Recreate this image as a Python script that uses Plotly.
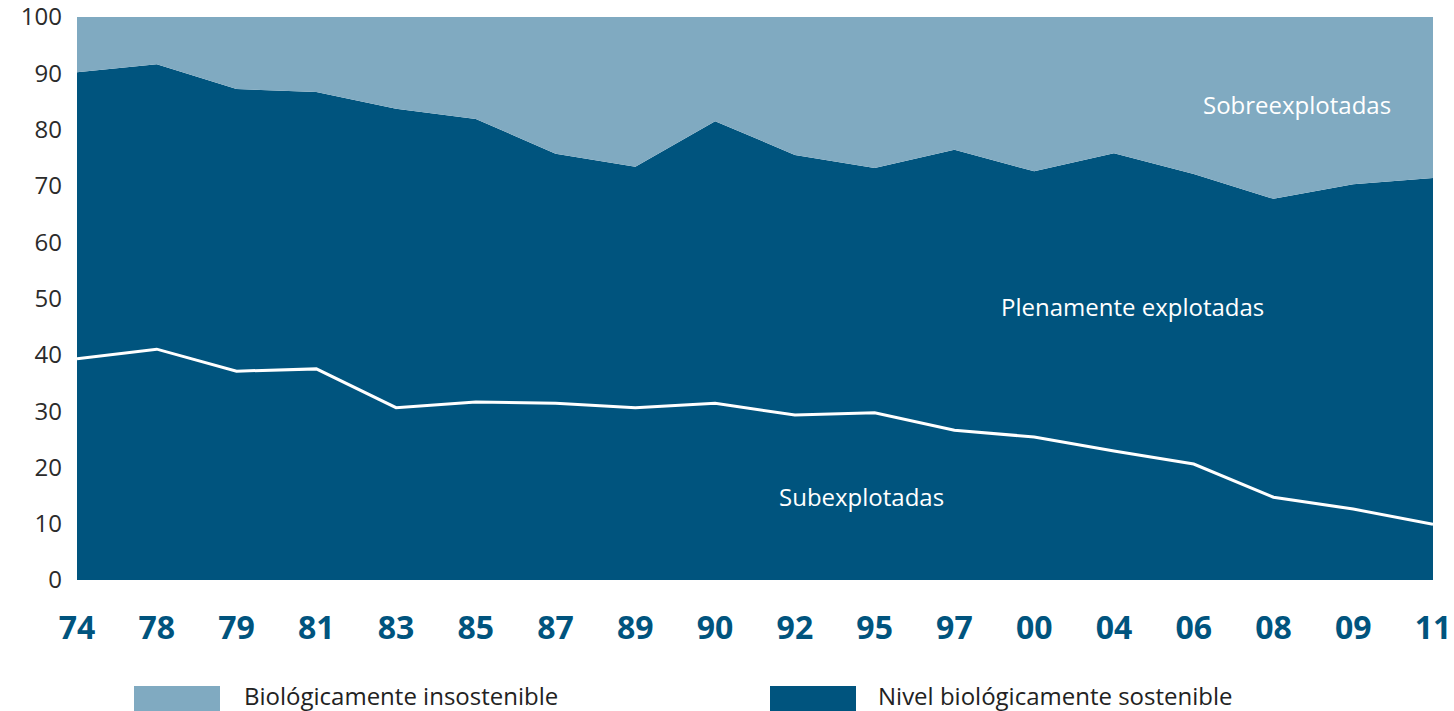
import plotly.graph_objects as go

years = ["74", "78", "79", "81", "83", "85", "87", "89", "90", "92", "95", "97", "00", "04", "06", "08", "09", "11"]
sostenible = [90.2, 91.6, 87.2, 86.7, 83.7, 81.9, 75.7, 73.4, 81.5, 75.5, 73.2, 76.4, 72.6, 75.8, 72.1, 67.7, 70.3, 71.4]
subexplotadas = [39.3, 41.0, 37.1, 37.5, 30.6, 31.6, 31.4, 30.6, 31.4, 29.3, 29.7, 26.6, 25.4, 22.9, 20.6, 14.7, 12.6, 9.9]
total = [100] * len(years)
y_ticks = [0, 10, 20, 30, 40, 50, 60, 70, 80, 90, 100]

LIGHT = "#80AAC1"
DARK = "#00547E"
xi = list(range(len(years)))

fig = go.Figure()
fig.add_trace(go.Scatter(x=xi, y=sostenible, mode="lines", line=dict(width=0, color=DARK),
                         fill="tozeroy", fillcolor=DARK, showlegend=False, hoverinfo="skip"))
fig.add_trace(go.Scatter(x=xi, y=total, mode="lines", line=dict(width=0, color=LIGHT),
                         fill="tonexty", fillcolor=LIGHT, showlegend=False, hoverinfo="skip"))
fig.add_trace(go.Scatter(x=xi, y=subexplotadas, mode="lines", line=dict(width=3, color="white"),
                         showlegend=False))

font = "Open Sans, Noto Sans, sans-serif"
ann_font = dict(family=font, size=24, color="white")
fig.add_annotation(x=15.3, y=84.5, text="Sobreexplotadas", showarrow=False, font=ann_font)
fig.add_annotation(x=13.23, y=48.5, text="Plenamente explotadas", showarrow=False, font=ann_font)
fig.add_annotation(x=9.84, y=14.9, text="Subexplotadas", showarrow=False, font=ann_font)

# legend
W, H = 1454, 711
l, r, t, b = 77, 21, 17, 131
pw, ph = W - l - r, H - t - b
def px(x): return (x - l) / pw
def py(y): return (H - b - y) / ph
leg = [(134, 220, LIGHT, 242, "Biológicamente insostenible"),
       (770, 856, DARK, 876, "Nivel biológicamente sostenible")]
for x0, x1, c, tx, label in leg:
    fig.add_shape(type="rect", xref="paper", yref="paper", x0=px(x0), x1=px(x1), y0=py(711), y1=py(686),
                  fillcolor=c, line=dict(width=0))
    fig.add_annotation(xref="paper", yref="paper", x=px(tx), y=py(696), text=label, showarrow=False,
                       xanchor="left", yanchor="middle", font=dict(family=font, size=24, color="#222222"))

fig.update_layout(
    width=W, height=H,
    margin=dict(l=l, r=r, t=t, b=b, autoexpand=False),
    paper_bgcolor="white", plot_bgcolor="white",
    xaxis=dict(range=[0, len(years) - 1], tickmode="array", tickvals=xi, ticktext=years,
               showgrid=False, zeroline=False, showline=False, ticks="", automargin=False,
               tickfont=dict(family=font, size=32, color=DARK, weight="bold"),
               ticklabelstandoff=26, ticklabeloverflow="allow", fixedrange=True),
    yaxis=dict(range=[0, 100], tickvals=y_ticks, showgrid=False, zeroline=False, showline=False,
               ticks="", automargin=False, tickfont=dict(family=font, size=24, color="#2b2b2b"),
               ticklabelstandoff=14, ticklabeloverflow="allow", fixedrange=True),
)

fig.write_html("out.html", config={"displayModeBar": False})
with open("out.html", "r", encoding="utf-8") as f:
    html = f.read()
html = html.replace("<head>", "<head><style>html,body{margin:0;padding:0;overflow:hidden}</style>", 1)
with open("out.html", "w", encoding="utf-8") as f:
    f.write(html)
